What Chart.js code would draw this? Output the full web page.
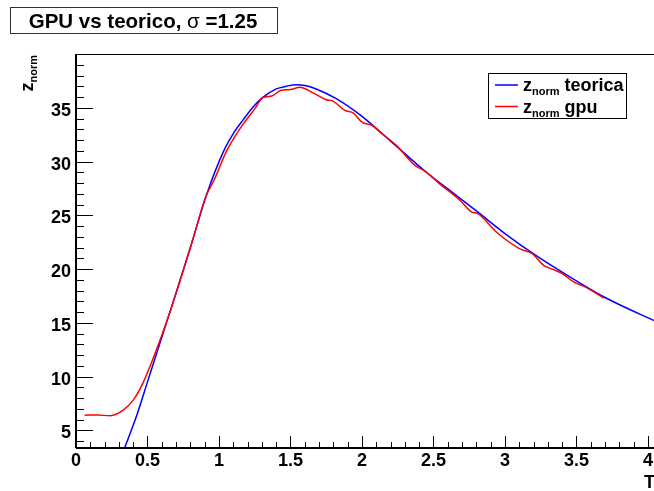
<!DOCTYPE html>
<html lang="en">
<head>
<meta charset="UTF-8">
<title>GPU vs teorico</title>
<style>
    html, body { margin: 0; padding: 0; background: #ffffff; }
    #wrap { width: 654px; height: 491px; position: relative; }
    canvas { display: block; }
</style>
</head>
<body>
<div id="wrap"><canvas id="chartCanvas" width="654" height="491"></canvas></div>
<script src="https://cdn.jsdelivr.net/npm/chart.js@4.4.1/dist/chart.umd.min.js"></script>
<script>
// theoretical curve
const teoricaT = [0.30, 0.34, 0.42, 0.50, 0.56, 0.63, 0.70, 0.80, 0.91, 1.03, 1.10, 1.17, 1.24, 1.30, 1.40, 1.47, 1.54, 1.61, 1.68, 1.82, 2.00, 2.20, 2.45, 2.60, 2.80, 3.00, 3.20, 3.40, 3.70, 4.10];
const teoricaZ = [2.0, 3.36, 6.2, 9.5, 12.0, 14.9, 17.8, 22.0, 26.8, 30.9, 32.6, 33.9, 35.1, 35.9, 36.75, 37.0, 37.15, 37.05, 36.75, 35.85, 34.2, 31.9, 29.0, 27.45, 25.4, 23.3, 21.4, 19.7, 17.35, 14.85];

// gpu result
const gpuT = [0.06, 0.15, 0.24, 0.33, 0.40, 0.466, 0.56, 0.63, 0.70, 0.816, 0.907, 0.97, 1.05, 1.11, 1.17, 1.25, 1.306, 1.37, 1.43, 1.50, 1.566, 1.66, 1.75, 1.80, 1.88, 1.94, 2.00, 2.07, 2.14, 2.24, 2.37, 2.44, 2.545, 2.685, 2.767, 2.81, 2.94, 3.10, 3.19, 3.27, 3.34, 3.40, 3.48, 3.57, 3.69];
const gpuZ = [6.4, 6.42, 6.35, 6.87, 7.8, 9.34, 12.4, 14.95, 17.74, 22.7, 26.7, 28.4, 30.9, 32.3, 33.5, 34.9, 35.95, 36.1, 36.6, 36.7, 36.9, 36.36, 35.75, 35.6, 34.75, 34.5, 33.66, 33.35, 32.6, 31.5, 29.64, 29.1, 27.9, 26.4, 25.3, 25.15, 23.44, 21.9, 21.43, 20.34, 19.94, 19.57, 18.8, 18.27, 17.3];

const seriesNames = ['teorica', 'gpu'];
const seriesColors = ['#0000ff', '#ff0000'];

const xTicks = [0, 0.5, 1, 1.5, 2, 2.5, 3, 3.5, 4];
const xTickLabels = ['0', '0.5', '1', '1.5', '2', '2.5', '3', '3.5', '4'];
const yTicks = [5, 10, 15, 20, 25, 30, 35];
const yTickLabels = ['5', '10', '15', '20', '25', '30', '35'];

const FONT = "'Liberation Sans', Arial, Helvetica, sans-serif";

function toPoints(xs, ys) {
    return xs.map((x, i) => ({ x: x, y: ys[i] }));
}

// z with "norm" subscript, returns total width
function drawZnorm(ctx, x, y, size) {
    ctx.font = 'bold ' + size + 'px ' + FONT;
    ctx.fillText('z', x, y);
    const wz = ctx.measureText('z').width;
    const sub = Math.round(size * 0.62);
    ctx.font = 'bold ' + sub + 'px ' + FONT;
    ctx.fillText('norm', x + wz, y + 4);
    return wz + ctx.measureText('norm').width;
}

const rootFrame = {
    id: 'rootFrame',
    afterDatasetsDraw(chart) {
        const ctx = chart.ctx;
        const a = chart.chartArea;
        const xs = chart.scales.x;
        const ys = chart.scales.y;
        ctx.save();
        ctx.strokeStyle = '#000';
        ctx.fillStyle = '#000';

        // frame
        ctx.lineWidth = 1;
        ctx.strokeRect(a.left + 0.5, a.top + 0.5, a.right - a.left + 10, a.bottom - a.top);
        ctx.lineWidth = 2;
        ctx.beginPath();
        ctx.moveTo(a.left, a.bottom);
        ctx.lineTo(a.right + 5, a.bottom);
        ctx.moveTo(a.left, a.top);
        ctx.lineTo(a.left, a.bottom);
        ctx.stroke();

        // y ticks (inside)
        ctx.lineWidth = 1;
        ctx.beginPath();
        for (let v = Math.ceil(ys.min); v <= ys.max; v++) {
            const py = Math.round(ys.getPixelForValue(v)) + 0.5;
            const len = yTicks.includes(v) ? 17 : 8;
            ctx.moveTo(a.left, py);
            ctx.lineTo(a.left + len, py);
        }
        // x ticks (inside)
        for (let i = 0; i <= 40; i++) {
            const v = i / 10;
            const px = Math.round(xs.getPixelForValue(v)) + 0.5;
            const len = (i % 5 === 0) ? 12 : 6;
            ctx.moveTo(px, a.bottom);
            ctx.lineTo(px, a.bottom - len);
        }
        ctx.stroke();

        // tick labels
        ctx.font = 'bold 18px ' + FONT;
        ctx.textBaseline = 'alphabetic';
        ctx.textAlign = 'right';
        yTicks.forEach((v, i) => {
            ctx.fillText(yTickLabels[i], a.left - 5, ys.getPixelForValue(v) + 8);
        });
        ctx.textAlign = 'center';
        xTicks.forEach((v, i) => {
            ctx.fillText(xTickLabels[i], xs.getPixelForValue(v), 466);
        });

        // axis titles
        ctx.textAlign = 'right';
        ctx.fillText('T', 655, 488);
        ctx.textAlign = 'left';
        ctx.font = 'bold 18px ' + FONT;
        const wz = ctx.measureText('z').width;
        ctx.font = 'bold 11px ' + FONT;
        const wn = ctx.measureText('norm').width;
        ctx.save();
        ctx.translate(33, a.top + 1 + wz + wn);
        ctx.rotate(-Math.PI / 2);
        drawZnorm(ctx, 0, 0, 18);
        ctx.restore();

        // title box
        ctx.lineWidth = 1;
        ctx.fillStyle = '#fff';
        ctx.fillRect(10, 7, 267, 26);
        ctx.strokeStyle = '#333';
        ctx.strokeRect(10.5, 7.5, 267, 26);
        ctx.fillStyle = '#000';
        const parts = [['GPU vs teorico, ', 'bold'], ['\u03c3', 'normal'], [' =1.25', 'bold']];
        let total = 0;
        parts.forEach(p => { ctx.font = p[1] + ' 20.5px ' + FONT; total += ctx.measureText(p[0]).width; });
        let tx = 143 - total / 2;
        parts.forEach(p => {
            ctx.font = p[1] + ' 20.5px ' + FONT;
            ctx.fillText(p[0], tx, 28);
            tx += ctx.measureText(p[0]).width;
        });

        // legend
        ctx.fillStyle = '#fff';
        ctx.fillRect(488, 73, 138, 45);
        ctx.strokeStyle = '#000';
        ctx.strokeRect(488.5, 73.5, 138, 45);
        ctx.fillStyle = '#000';
        seriesNames.forEach((name, i) => {
            const ly = 85 + i * 21.5;
            ctx.strokeStyle = seriesColors[i];
            ctx.lineWidth = 1.5;
            ctx.beginPath();
            ctx.moveTo(495, ly);
            ctx.lineTo(518, ly);
            ctx.stroke();
            const w = drawZnorm(ctx, 523, ly + 6, 18);
            ctx.font = 'bold 18px ' + FONT;
            ctx.fillText(' ' + name, 523 + w, ly + 6);
        });
        ctx.restore();
    }
};

const ctx = document.getElementById('chartCanvas').getContext('2d');
new Chart(ctx, {
    type: 'scatter',
    data: {
        datasets: [
            {
                label: 'z_norm ' + seriesNames[0],
                data: toPoints(teoricaT, teoricaZ),
                showLine: true,
                borderColor: seriesColors[0],
                borderWidth: 1.5,
                pointRadius: 0,
                cubicInterpolationMode: 'monotone',
                order: 1
            },
            {
                label: 'z_norm ' + seriesNames[1],
                data: toPoints(gpuT, gpuZ),
                showLine: true,
                borderColor: seriesColors[1],
                borderWidth: 1.5,
                pointRadius: 0,
                cubicInterpolationMode: 'monotone',
                order: 0
            }
        ]
    },
    options: {
        responsive: false,
        animation: false,
        maintainAspectRatio: false,
        layout: { padding: { left: 76, top: 54, right: 0, bottom: 43 } },
        plugins: {
            legend: { display: false },
            tooltip: { enabled: false },
            title: { display: false }
        },
        scales: {
            x: { type: 'linear', min: 0, max: 4.042, display: false },
            y: { type: 'linear', min: 3.35, max: 40, display: false }
        }
    },
    plugins: [rootFrame]
});
</script>
</body>
</html>
